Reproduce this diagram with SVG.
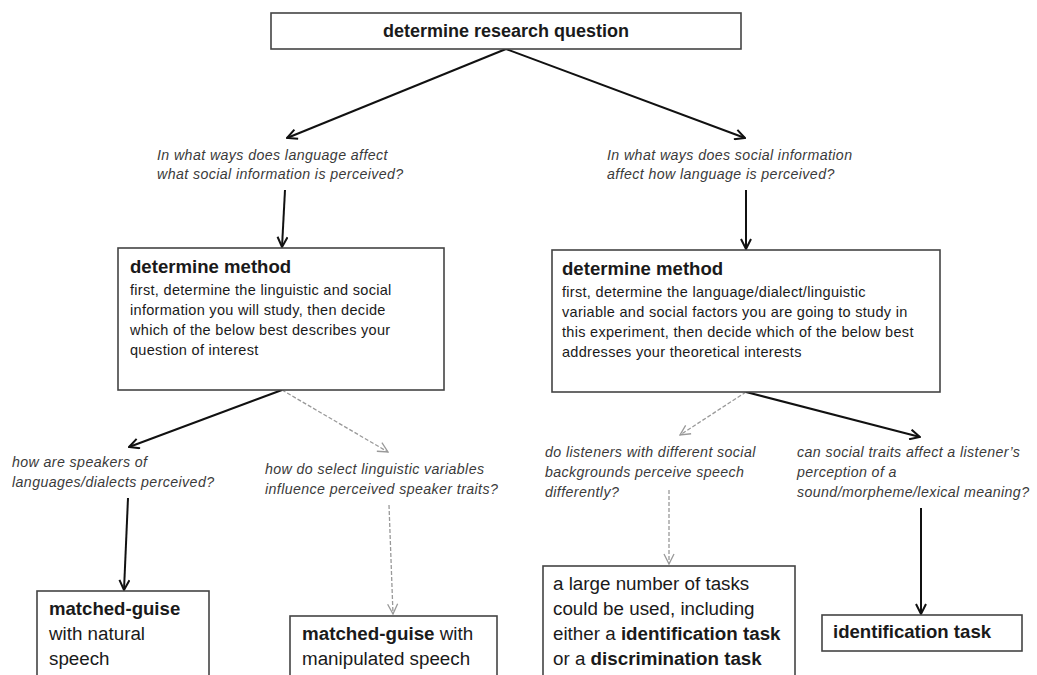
<svg xmlns="http://www.w3.org/2000/svg" width="1037" height="675" viewBox="0 0 1037 675">
<style>
text{font-family:"Liberation Sans",Arial,sans-serif;fill:#1a1a1a}
.box{fill:#fff;stroke:#444;stroke-width:1.6}
.t{font-weight:bold;font-size:18px}
.h{font-weight:bold;font-size:18.6px}
.b{font-size:14.5px;letter-spacing:0.3px}
.q{font-style:italic;font-size:14.2px;letter-spacing:0.4px;fill:#3a3a3a}
.big{font-size:18.8px}
.bb{font-size:18.6px;font-weight:bold}
.solid{stroke:#111;stroke-width:2;fill:none}
.dash{stroke:#999;stroke-width:1.3;stroke-dasharray:4 2;fill:none}
</style>
<defs>
<marker id="ah" viewBox="0 0 12 12" refX="11" refY="6" markerWidth="12" markerHeight="12" markerUnits="userSpaceOnUse" orient="auto"><path d="M1,1 L11,6 L1,11" fill="none" stroke="#111" stroke-width="2"/></marker>
<marker id="ahg" viewBox="0 0 12 12" refX="11" refY="6" markerWidth="12" markerHeight="12" markerUnits="userSpaceOnUse" orient="auto"><path d="M1,1 L11,6 L1,11" fill="none" stroke="#999" stroke-width="1.3"/></marker>
</defs>
<g id="connectors">
<path class="solid" d="M506,49 L287,138" marker-end="url(#ah)"/>
<path class="solid" d="M506,49 L745,138" marker-end="url(#ah)"/>
<path class="solid" d="M285,190 L282,247" marker-end="url(#ah)"/>
<path class="solid" d="M746,190 L746,249" marker-end="url(#ah)"/>
<path class="solid" d="M282,390 L129,447" marker-end="url(#ah)"/>
<path class="dash" d="M282,390 L388,452" marker-end="url(#ahg)"/>
<path class="solid" d="M128,498 L124,590" marker-end="url(#ah)"/>
<path class="dash" d="M389,505 L393,614" marker-end="url(#ahg)"/>
<path class="dash" d="M746,392 L680,435" marker-end="url(#ahg)"/>
<path class="solid" d="M746,392 L920,437" marker-end="url(#ah)"/>
<path class="dash" d="M669,490 L669,564" marker-end="url(#ahg)"/>
<path class="solid" d="M921,508 L921,614" marker-end="url(#ah)"/>
</g>
<g id="n-top">
<rect class="box" x="271" y="13" width="470" height="36"/>
<text class="t" x="506" y="37" text-anchor="middle">determine research question</text>
</g>
<g id="q-left">
<text class="q" x="157" y="160">In what ways does language affect</text>
<text class="q" x="157" y="179">what social information is perceived?</text>
</g>
<g id="q-right">
<text class="q" x="607" y="160">In what ways does social information</text>
<text class="q" x="607" y="179">affect how language is perceived?</text>
</g>
<g id="m-left">
<rect class="box" x="118" y="248" width="326" height="142"/>
<text class="h" x="130" y="273">determine method</text>
<text class="b" x="130" y="295">first, determine the linguistic and social</text>
<text class="b" x="130" y="315">information you will study, then decide</text>
<text class="b" x="130" y="335">which of the below best describes your</text>
<text class="b" x="130" y="355">question of interest</text>
</g>
<g id="m-right">
<rect class="box" x="552" y="250" width="388" height="142"/>
<text class="h" x="562" y="275">determine method</text>
<text class="b" x="562" y="297">first, determine the language/dialect/linguistic</text>
<text class="b" x="562" y="317">variable and social factors you are going to study in</text>
<text class="b" x="562" y="337">this experiment, then decide which of the below best</text>
<text class="b" x="562" y="357">addresses your theoretical interests</text>
</g>
<g id="q-ll">
<text class="q" x="12" y="467">how are speakers of</text>
<text class="q" x="12" y="487">languages/dialects perceived?</text>
</g>
<g id="q-lr">
<text class="q" x="265" y="474">how do select linguistic variables</text>
<text class="q" x="265" y="494">influence perceived speaker traits?</text>
</g>
<g id="q-rl">
<text class="q" x="545" y="457">do listeners with different social</text>
<text class="q" x="545" y="477">backgrounds perceive speech</text>
<text class="q" x="545" y="497">differently?</text>
</g>
<g id="q-rr">
<text class="q" x="797" y="457">can social traits affect a listener’s</text>
<text class="q" x="797" y="477">perception of a</text>
<text class="q" x="797" y="497">sound/morpheme/lexical meaning?</text>
</g>
<g id="r-natural">
<rect class="box" x="37" y="591" width="172" height="100"/>
<text class="bb" x="49" y="615">matched-guise</text>
<text class="big" x="49" y="640">with natural</text>
<text class="big" x="49" y="665">speech</text>
</g>
<g id="r-manip">
<rect class="box" x="290" y="616" width="207" height="80"/>
<text class="big" x="302" y="640"><tspan font-weight="bold">matched-guise</tspan> with</text>
<text class="big" x="302" y="665">manipulated speech</text>
</g>
<g id="r-tasks">
<rect class="box" x="543" y="566" width="252" height="120"/>
<text class="big" x="553" y="590">a large number of tasks</text>
<text class="big" x="553" y="615">could be used, including</text>
<text class="big" x="553" y="640">either a <tspan font-weight="bold">identification task</tspan></text>
<text class="big" x="553" y="665">or a <tspan font-weight="bold">discrimination task</tspan></text>
</g>
<g id="r-ident">
<rect class="box" x="822" y="615" width="200" height="36"/>
<text class="bb" x="833" y="638">identification task</text>
</g>
</svg>
